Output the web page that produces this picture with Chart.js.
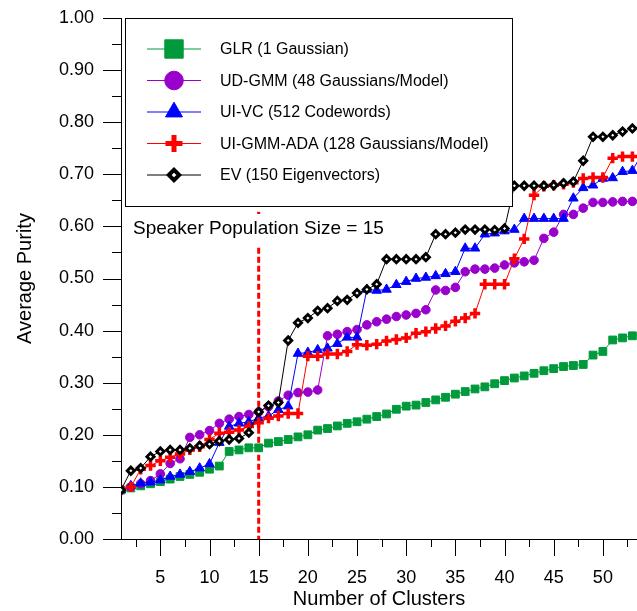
<!DOCTYPE html>
<html lang="en">
<head>
<meta charset="UTF-8">
<title>Average Purity vs Number of Clusters</title>
<script src="https://cdn.jsdelivr.net/npm/chart.js"></script>
<style>
  html, body { margin: 0; padding: 0; background: #fff; }
  canvas { display: block; }
</style>
</head>
<body>
<canvas id="purityChart" width="637" height="611"></canvas>

<script>
    // x positions: number of clusters (the last one runs off the right edge)
    const clusters = Array.from({ length: 54 }, (_, i) => i + 1);

    const glr = [0.094, 0.098, 0.102, 0.106, 0.110, 0.115, 0.120, 0.124, 0.128, 0.134,
        0.140, 0.168, 0.171, 0.175, 0.175, 0.184, 0.187, 0.191, 0.196, 0.200,
        0.209, 0.212, 0.217, 0.222, 0.225, 0.230, 0.235, 0.240, 0.249, 0.255,
        0.257, 0.262, 0.267, 0.272, 0.278, 0.283, 0.288, 0.292, 0.298, 0.304,
        0.309, 0.313, 0.318, 0.323, 0.327, 0.331, 0.333, 0.335, 0.353, 0.360,
        0.382, 0.386, 0.390, 0.393];

    const udGmm = [0.094, 0.100, 0.106, 0.112, 0.125, 0.145, 0.154, 0.195, 0.200, 0.208,
        0.222, 0.230, 0.235, 0.239, 0.244, 0.254, 0.265, 0.276, 0.281, 0.282,
        0.286, 0.390, 0.393, 0.398, 0.402, 0.411, 0.417, 0.422, 0.427, 0.430,
        0.433, 0.440, 0.478, 0.477, 0.483, 0.513, 0.518, 0.518, 0.520, 0.526,
        0.530, 0.532, 0.535, 0.577, 0.589, 0.623, 0.623, 0.635, 0.646, 0.646,
        0.647, 0.648, 0.648, 0.650];

    const uiVc = [0.094, 0.102, 0.107, 0.109, 0.113, 0.120, 0.124, 0.129, 0.136, 0.144,
        0.185, 0.216, 0.222, 0.225, 0.232, 0.236, 0.248, 0.255, 0.356, 0.358,
        0.363, 0.366, 0.375, 0.387, 0.387, 0.479, 0.477, 0.479, 0.488, 0.494,
        0.500, 0.502, 0.505, 0.509, 0.513, 0.558, 0.558, 0.585, 0.587, 0.591,
        0.594, 0.615, 0.615, 0.615, 0.615, 0.615, 0.654, 0.674, 0.679, 0.692,
        0.693, 0.705, 0.707, 0.740];

    const uiGmmAda = [0.094, 0.100, 0.134, 0.141, 0.150, 0.157, 0.163, 0.171, 0.177, 0.191,
        0.203, 0.205, 0.209, 0.216, 0.223, 0.232, 0.236, 0.241, 0.241, 0.351,
        0.351, 0.355, 0.355, 0.360, 0.373, 0.372, 0.374, 0.380, 0.383, 0.386,
        0.395, 0.398, 0.404, 0.409, 0.418, 0.424, 0.433, 0.489, 0.489, 0.489,
        0.538, 0.576, 0.660, 0.677, 0.679, 0.681, 0.684, 0.692, 0.694, 0.694,
        0.731, 0.734, 0.734, 0.736];

    const ev = [0.094, 0.131, 0.136, 0.158, 0.168, 0.171, 0.171, 0.174, 0.179, 0.182,
        0.188, 0.191, 0.193, 0.204, 0.244, 0.256, 0.262, 0.381, 0.415, 0.424,
        0.438, 0.443, 0.457, 0.459, 0.472, 0.479, 0.489, 0.537, 0.537, 0.537,
        0.537, 0.541, 0.585, 0.585, 0.588, 0.594, 0.594, 0.594, 0.593, 0.596,
        0.678, 0.678, 0.678, 0.678, 0.679, 0.683, 0.686, 0.726, 0.772, 0.772,
        0.775, 0.782, 0.788, 0.792];

    const seriesLabels = ['GLR (1 Gaussian)', 'UD-GMM (48 Gaussians/Model)', 'UI-VC (512 Codewords)',
        'UI-GMM-ADA (128 Gaussians/Model)', 'EV (150 Eigenvectors)'];
    const xTickValues = [5, 10, 15, 20, 25, 30, 35, 40, 45, 50];
    const populationSize = 15;
    const caption = 'Speaker Population Size = ' + populationSize;

    const FONT = 'Arial, "Liberation Sans", sans-serif';

    const toPoints = (values) => values.map((v, i) => ({ x: clusters[i], y: v }));

    // marker look per series, plus a larger version for the key box
    const styles = [
        { color: '#009a3c', fill: '#009a3c', point: 'rect', r: 5.5, bw: 1, keyR: 13, keyBw: 1, order: 5 },
        { color: '#9a00cc', fill: '#9a00cc', point: 'circle', r: 4.3, bw: 1, keyR: 9.3, keyBw: 1, order: 4 },
        { color: '#0000ff', fill: '#0000ff', point: 'triangle', r: 5.5, bw: 1, keyR: 9.8, keyBw: 1, order: 3 },
        { color: '#ff0000', fill: '#ff0000', point: 'cross', r: 5.2, bw: 3.5, keyR: 8.5, keyBw: 5, order: 2 },
        { color: '#000000', fill: '#ffffff', point: 'rectRot', r: 3.6, bw: 2.9, keyR: 5.2, keyBw: 4, order: 1 }
    ];

    const seriesValues = [glr, udGmm, uiVc, uiGmmAda, ev];

    const decorPlugin = {
        id: 'decor',
        beforeDatasetsDraw(chart) {
            const { ctx, scales: { x, y } } = chart;
            const px = x.getPixelForValue(populationSize);
            ctx.save();
            ctx.strokeStyle = '#ff0000';
            ctx.lineWidth = 3;
            ctx.setLineDash([6, 3]);
            ctx.beginPath();
            ctx.moveTo(px, y.getPixelForValue(0.628));
            ctx.lineTo(px, y.bottom);
            ctx.stroke();
            ctx.setLineDash([]);

            // caption sits on a white patch that interrupts the dashed line
            ctx.font = '19px ' + FONT;
            const cy = y.getPixelForValue(0.595);
            const w = ctx.measureText(caption).width;
            ctx.fillStyle = '#ffffff';
            ctx.fillRect(x.left + 8, cy - 15, w + 10, 31);
            ctx.fillStyle = '#000000';
            ctx.textBaseline = 'middle';
            ctx.fillText(caption, x.left + 12, cy);
            ctx.restore();
        },
        afterDatasetsDraw(chart) {
            const { ctx, chartArea } = chart;
            const left = chartArea.left + 4;
            const top = chartArea.top;
            const right = 512;
            const bottom = 206;
            ctx.save();
            ctx.fillStyle = '#ffffff';
            ctx.fillRect(left, top, right - left, bottom - top);
            ctx.strokeStyle = '#000000';
            ctx.lineWidth = 1;
            ctx.strokeRect(Math.round(left) + 0.5, Math.round(top) + 0.5, right - Math.round(left), bottom - Math.round(top));

            ctx.font = '16px ' + FONT;
            ctx.textBaseline = 'middle';
            styles.forEach((s, i) => {
                const cy = top + 31 + i * 31.5;
                ctx.strokeStyle = s.color;
                ctx.lineWidth = 1;
                ctx.beginPath();
                ctx.moveTo(left + 22, cy);
                ctx.lineTo(left + 76, cy);
                ctx.stroke();
                ctx.fillStyle = s.fill;
                ctx.lineWidth = s.keyBw;
                Chart.helpers.drawPoint(ctx, {
                    pointStyle: s.point, radius: s.keyR, borderWidth: s.keyBw, rotation: 0
                }, left + 49, cy);
                ctx.fillStyle = '#000000';
                ctx.fillText(seriesLabels[i], left + 95, cy + 1);
            });
            ctx.restore();
        },
        afterDraw(chart) {
            const { ctx, scales: { x, y } } = chart;
            ctx.save();
            ctx.strokeStyle = '#000000';
            ctx.lineWidth = 1;
            ctx.beginPath();
            for (let k = 0; k <= 20; k++) {
                const py = Math.round(y.getPixelForValue(k * 0.05)) + 0.5;
                ctx.moveTo(x.left - (k % 2 === 0 ? 18 : 9), py);
                ctx.lineTo(x.left, py);
            }
            for (let k = 1; k * 2.5 < x.max; k++) {
                const px = Math.round(x.getPixelForValue(k * 2.5)) + 0.5;
                ctx.moveTo(px, y.bottom);
                ctx.lineTo(px, y.bottom + (k % 2 === 0 ? 17 : 8));
            }
            ctx.stroke();
            ctx.restore();
        }
    };

    const ctx = document.getElementById('purityChart').getContext('2d');
    new Chart(ctx, {
        type: 'line',
        data: {
            datasets: seriesValues.map((values, i) => ({
                label: seriesLabels[i],
                data: toPoints(values),
                order: styles[i].order,
                borderColor: styles[i].color,
                borderWidth: 1,
                tension: 0,
                fill: false,
                pointStyle: styles[i].point,
                pointRadius: styles[i].r,
                pointBackgroundColor: styles[i].fill,
                pointBorderColor: styles[i].color,
                pointBorderWidth: styles[i].bw
            }))
        },
        options: {
            responsive: false,
            animation: false,
            events: [],
            layout: { autoPadding: false, padding: { top: 18, right: 0, left: 0, bottom: 0 } },
            scales: {
                x: {
                    type: 'linear',
                    min: 1,
                    max: 53.47,
                    afterBuildTicks: (scale) => { scale.ticks = xTickValues.map(v => ({ value: v })); },
                    afterFit: (scale) => {
                        scale.height = 72;
                        scale.paddingLeft = 0;
                        scale.paddingRight = 0;
                    },
                    grid: { display: false, drawTicks: false },
                    border: { display: true, color: '#000000', width: 1 },
                    ticks: {
                        autoSkip: false,
                        maxRotation: 0,
                        padding: 28,
                        color: '#000000',
                        font: { family: FONT, size: 18 }
                    },
                    title: {
                        display: true,
                        text: 'Number of Clusters',
                        color: '#000000',
                        font: { family: FONT, size: 20 },
                        padding: { top: 0, bottom: 0 }
                    }
                },
                y: {
                    min: 0,
                    max: 1,
                    afterFit: (scale) => {
                        scale.width = 121;
                        scale.paddingTop = 0;
                        scale.paddingBottom = 0;
                    },
                    grid: { display: false, drawTicks: false },
                    border: { display: true, color: '#000000', width: 1 },
                    ticks: {
                        stepSize: 0.1,
                        padding: 27,
                        color: '#000000',
                        font: { family: FONT, size: 18 },
                        callback: (v) => v.toFixed(2)
                    },
                    title: {
                        display: true,
                        text: 'Average Purity',
                        color: '#000000',
                        font: { family: FONT, size: 20 },
                        padding: { top: 13, bottom: 0 }
                    }
                }
            },
            plugins: {
                legend: { display: false },
                tooltip: { enabled: false }
            }
        },
        plugins: [decorPlugin]
    });
</script>
</body>
</html>
